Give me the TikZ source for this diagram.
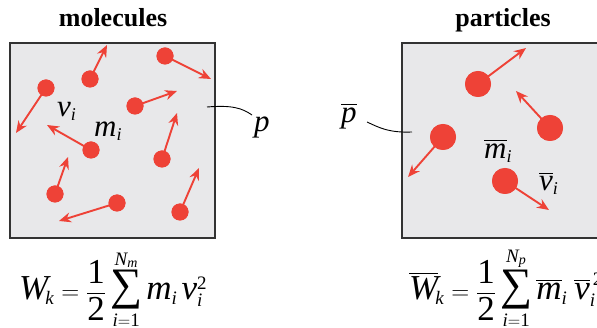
\documentclass[tikz,border=0pt]{standalone}
\usepackage{amsmath}
\usepackage{fontspec}
\setmainfont{Liberation Serif}
\DeclareMathSizes{35}{35}{19}{14}
\DeclareMathSizes{31}{31}{18}{13}
\newcommand\tl[1]{\text{\normalfont\itshape #1}}
\newcommand\tn[1]{\text{\normalfont #1}}
\newcommand\bigsum{\mathop{\text{\normalfont\fontsize{45}{45}\selectfont ∑}}\limits}
\usetikzlibrary{arrows.meta}
\definecolor{ballred}{HTML}{EE4237}
\definecolor{boxgray}{HTML}{E8E8EA}
\definecolor{edgegray}{HTML}{333333}
\begin{document}
\begin{tikzpicture}[x=1pt,y=-1pt,
  ball/.style={circle,fill=ballred,draw=none,inner sep=0pt,minimum size=17pt},
  bigball/.style={circle,fill=ballred,draw=none,inner sep=0pt,minimum size=26pt},
  vel/.style={draw=ballred,line width=1.9pt,-{Stealth[length=12pt,width=10pt]}},
  panel/.style={fill=boxgray,draw=edgegray,line width=1.3pt},
  title/.style={font=\fontsize{26}{28}\selectfont\bfseries,inner sep=0pt,anchor=base},
  lab/.style={font=\fontsize{31}{33}\selectfont,inner sep=0pt,anchor=base west},
  eqn/.style={font=\fontsize{35}{37}\selectfont,inner sep=0pt,anchor=base west},
  leader/.style={draw=black,line width=0.9pt}]
\useasboundingbox (0,0) rectangle (597,328);
\begin{scope}
\clip (0,0) rectangle (597,328);
% titles
\node[title] (t1) at (113,27) {molecules};
\node[title] (t2) at (503,27) {particles};
% panels
\draw[panel] (10,43) rectangle (215,238);
\draw[panel] (402,43) rectangle (610,238);
% molecules
\foreach \n/\bx/\by/\ax/\ay in {1/90/79/107/45, 2/165/56/211/79, 3/46/88/16/133, 4/135/106/177/91, 5/91/150/47/125, 6/162/159/177/113, 7/55/194/68/157, 8/117/203/59/221, 9/180/212/199/168}{
  \coordinate (ma\n) at (\ax,\ay);
  \node[ball] (m\n) at (\bx,\by) {};
  \draw[vel] (m\n.center) -- (ma\n);
  \node[ball] at (m\n) {};
}
% particles
\foreach \n/\bx/\by/\ax/\ay in {1/478/84/526/48, 2/550/128/516/91, 3/443/137/408/177, 4/505/181/549/210}{
  \coordinate (pa\n) at (\ax,\ay);
  \node[bigball] (p\n) at (\bx,\by) {};
  \draw[vel] (p\n.center) -- (pa\n);
  \node[bigball] at (p\n) {};
}
% labels
\node[lab] (vi) at (57,117) {$\tl{v}_{\tl{i}}$};
\node[lab] (mi) at (94,137) {$\tl{m}_{\tl{i}}$};
\node[lab] (pl) at (254,132) {$\tl{p}$};
\node[lab] (pr) at (341,123) {$\overline{\tl{p}}$};
\node[lab] (mb) at (484,159) {$\overline{\tl{m}}_{\tl{i}}$};
\node[lab] (vb) at (539,191) {$\overline{\tl{v}}_{\tl{i}}$};
% leaders
\coordinate (lpa) at (207,107);
\coordinate (lpb) at (252,115);
\draw[leader] (lpa) .. controls (232,105) and (242,108) .. (lpb);
\coordinate (rpa) at (367,122);
\coordinate (rpb) at (412,132);
\draw[leader] (rpa) .. controls (378,127) and (388,133) .. (rpb);
% equations
\node[eqn] (e1) at (19,300) {$\displaystyle \tl{W}_{\!\tl{k}}=\frac{\tn{1}}{\tn{2}}\bigsum_{\tl{i}=\tn{1}}^{\tl{N}_{\tl{m}}} \tl{m}_{\tl{i}}\,\tl{v}_{\tl{i}}^{\tn{2}}$};
\node[eqn] (e2) at (409,300) {$\displaystyle \overline{\tl{W}}_{\!\tl{k}}=\frac{\tn{1}}{\tn{2}}\bigsum_{\tl{i}=\tn{1}}^{\tl{N}_{\tl{p}}} \overline{\tl{m}}_{\tl{i}}\;\overline{\tl{v}}_{\tl{i}}^{\,\tn{2}}$};
\end{scope}
\end{tikzpicture}
\end{document}
